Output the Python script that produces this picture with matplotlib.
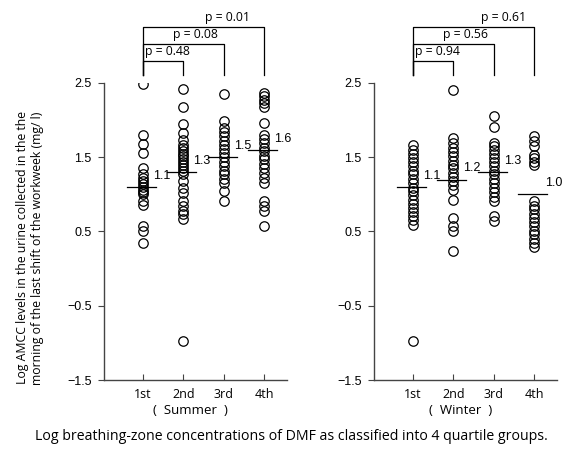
import matplotlib
matplotlib.use("Agg")
import matplotlib.pyplot as plt

# log AMCC values per DMF quartile group
summer_groups = [
    [2.49, 1.80, 1.68, 1.56, 1.35, 1.28, 1.22, 1.18, 1.14, 1.10, 1.06, 1.03, 1.00,
     0.91, 0.86, 0.58, 0.50, 0.34],
    [2.42, 2.18, 1.95, 1.82, 1.73, 1.67, 1.62, 1.59, 1.55, 1.52, 1.48, 1.44, 1.40,
     1.35, 1.31, 1.27, 1.18, 1.09, 1.02, 0.91, 0.84, 0.78, 0.73, 0.67, -0.97],
    [2.35, 1.99, 1.90, 1.84, 1.78, 1.72, 1.67, 1.61, 1.56, 1.50, 1.44, 1.38, 1.32,
     1.27, 1.21, 1.15, 1.04, 0.91],
    [2.36, 2.32, 2.27, 2.23, 2.18, 1.96, 1.80, 1.75, 1.69, 1.63, 1.58, 1.52, 1.47,
     1.41, 1.35, 1.29, 1.22, 1.15, 0.91, 0.84, 0.77, 0.57],
]
winter_groups = [
    [1.66, 1.60, 1.54, 1.49, 1.44, 1.38, 1.32, 1.27, 1.21, 1.15, 1.09, 1.04, 0.99,
     0.93, 0.87, 0.82, 0.76, 0.71, 0.65, 0.59, -0.97],
    [2.41, 1.76, 1.69, 1.63, 1.57, 1.51, 1.45, 1.40, 1.35, 1.29, 1.23, 1.18, 1.12,
     1.06, 0.93, 0.68, 0.57, 0.51, 0.24],
    [2.06, 1.91, 1.69, 1.65, 1.60, 1.54, 1.49, 1.44, 1.38, 1.32, 1.27, 1.21, 1.15,
     1.09, 1.03, 0.97, 0.91, 0.71, 0.64],
    [1.79, 1.72, 1.65, 1.53, 1.49, 1.44, 1.40, 0.91, 0.85, 0.80, 0.74, 0.68, 0.63,
     0.57, 0.51, 0.46, 0.40, 0.35, 0.29],
]
summer_means = [1.1, 1.3, 1.5, 1.6]
winter_means = [1.1, 1.2, 1.3, 1.0]
summer_p = ["0.48", "0.08", "0.01"]
winter_p = ["0.94", "0.56", "0.61"]
quartiles = ["1st", "2nd", "3rd", "4th"]
yticks = [2.5, 1.5, 0.5, -0.5, -1.5]

LABEL_FONT = ["Open Sans", "DejaVu Sans"]
TICK_FONT = ["Liberation Sans", "DejaVu Sans"]
SPINE = "#444444"

fig = plt.figure(figsize=(5.66, 4.51), dpi=100)


def panel(rect, groups, means, pvals, ptext_x):
    ax = fig.add_axes(rect)
    pos = range(1, len(groups) + 1)
    for x, vals in zip(pos, groups):
        ax.plot([x] * len(vals), vals, "o", ms=6.8, mfc="none", mec="black", mew=0.9)
    for x, m in zip(pos, means):
        ax.plot([x - 0.4, x + 0.32], [m, m], color="black", lw=0.9)
        ax.text(x + 0.25, m + 0.15, f"{m:.1f}", fontsize=9, va="center",
                ha="left", family=TICK_FONT)

    # significance brackets against the 1st quartile
    levels = [2.80, 3.02, 3.25]
    for k, (lev, p, tx) in enumerate(zip(levels, pvals, ptext_x)):
        x2 = k + 2
        ax.plot([1, 1, x2, x2], [2.61, lev, lev, 2.61], color="black", lw=0.9,
                clip_on=False)
        ha = "left" if k == 0 else "center"
        ax.text(tx, lev + 0.13, f"p = {p}", fontsize=8.8, ha=ha, va="center",
                family=LABEL_FONT)

    ax.set_xlim(0.04, 4.55)
    ax.set_ylim(-1.5, 2.5)
    ax.set_xticks(list(pos))
    ax.set_xticklabels(quartiles, family=LABEL_FONT, fontsize=9)
    ax.set_yticks(yticks)
    ax.set_yticklabels([f"{v:.1f}".replace("-", "\u2212") for v in yticks],
                       family=TICK_FONT, fontsize=9)
    ax.tick_params(axis="x", direction="in", length=4, pad=6, color=SPINE)
    ax.tick_params(axis="y", direction="out", length=4, pad=5, color=SPINE)
    for side in ("top", "right"):
        ax.spines[side].set_visible(False)
    for side in ("left", "bottom"):
        ax.spines[side].set_color(SPINE)
        ax.spines[side].set_linewidth(1.0)
    return ax


panel([0.1837, 0.1574, 0.3228, 0.6586], summer_groups, summer_means, summer_p,
      [1.05, 2.31, 3.09])
panel([0.6608, 0.1574, 0.3228, 0.6586], winter_groups, winter_means, winter_p,
      [1.05, 2.31, 3.25])

fig.text(30 / 566, 1 - 248 / 451,
         "Log AMCC levels in the urine collected in the the\n"
         "morning of the last shift of the workweek (mg/ l)",
         rotation=90, ha="center", va="center", fontsize=8.8,
         family=LABEL_FONT, linespacing=1.15)
fig.text(190 / 566, 1 - 410 / 451, "(  Summer  )", ha="center", va="center",
         fontsize=9.5, family=LABEL_FONT)
fig.text(461 / 566, 1 - 410 / 451, "(  Winter  )", ha="center", va="center",
         fontsize=9.5, family=LABEL_FONT)
fig.text(291 / 566, 1 - 437 / 451,
         "Log breathing-zone concentrations of DMF as classified into 4 quartile groups.",
         ha="center", va="center", fontsize=10.2, family=LABEL_FONT)

fig.savefig("out.png", dpi=100)
